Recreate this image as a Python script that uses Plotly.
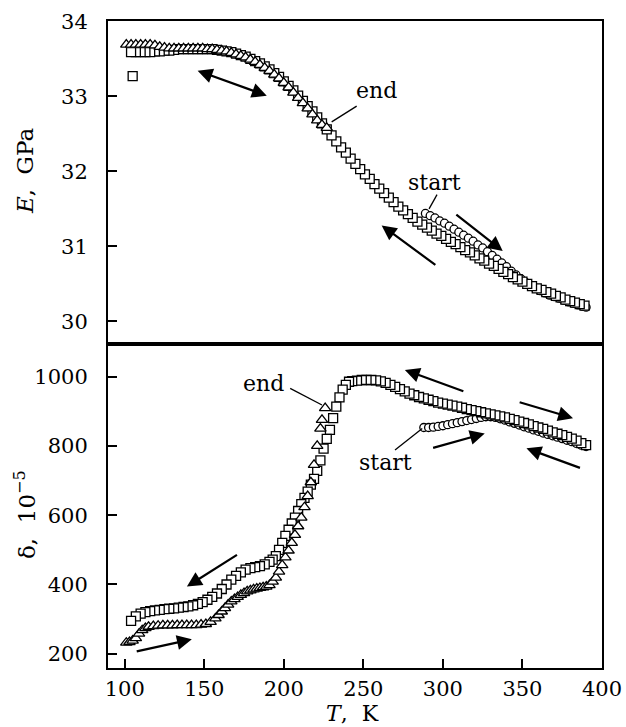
import plotly.graph_objects as go

# ---------------- tick labels ----------------
T_TICKS = [100, 150, 200, 250, 300, 350, 400]
E_TICKS = [30, 31, 32, 33, 34]
D_TICKS = [200, 400, 600, 800, 1000]

# ---------------- top panel: E, GPa ----------------
# circles: first heating, "start" at ~289 K
T_E_heat1 = [289, 292, 295, 298, 301, 304, 307, 310, 313, 316, 319, 322, 325, 328, 331, 334,
             337, 340, 343, 346, 349, 352, 355, 358, 361, 364, 367, 370, 373, 376, 379, 382,
             385, 388, 390]
E_heat1 = [31.44, 31.41, 31.38, 31.34, 31.31, 31.27, 31.23, 31.19, 31.15, 31.11, 31.07, 31.02,
           30.98, 30.93, 30.88, 30.83, 30.78, 30.73, 30.67, 30.62, 30.57, 30.52, 30.47, 30.44,
           30.41, 30.38, 30.35, 30.33, 30.31, 30.28, 30.26, 30.24, 30.22, 30.20, 30.19]

# squares: cooling from 390 K down to ~104 K
T_E_cool = [389, 386, 383, 380, 377, 374, 371, 368, 365, 362, 359, 356, 353, 350, 347, 344,
            341, 338, 335, 332, 329, 326, 323, 320, 317, 314, 311, 308, 305, 302, 299, 296,
            293, 290, 287, 284, 281, 278, 275, 272, 269, 266, 263, 260, 257, 254, 251, 248,
            245, 242, 239, 236, 233, 230, 227, 224, 221, 218, 215, 212, 209, 206, 203, 200,
            197, 194, 191, 188, 185, 182, 179, 176, 173, 170, 167, 164, 161, 158, 155, 152,
            149, 146, 143, 140, 137, 134, 131, 128, 125, 122, 119, 116, 113, 110, 107, 104, 105]
E_cool = [30.21, 30.23, 30.25, 30.27, 30.29, 30.32, 30.34, 30.37, 30.39, 30.42, 30.44, 30.47,
          30.50, 30.53, 30.56, 30.59, 30.63, 30.66, 30.70, 30.74, 30.77, 30.81, 30.84, 30.88,
          30.92, 30.95, 30.99, 31.03, 31.06, 31.10, 31.14, 31.17, 31.21, 31.25, 31.29, 31.33,
          31.38, 31.43, 31.48, 31.53, 31.59, 31.65, 31.71, 31.77, 31.83, 31.90, 31.96, 32.03,
          32.10, 32.17, 32.25, 32.32, 32.40, 32.48, 32.56, 32.64, 32.72, 32.80, 32.87, 32.94,
          33.01, 33.08, 33.14, 33.20, 33.26, 33.31, 33.36, 33.40, 33.44, 33.47, 33.50, 33.53,
          33.55, 33.57, 33.59, 33.60, 33.61, 33.62, 33.63, 33.63, 33.63, 33.63, 33.63, 33.63,
          33.63, 33.63, 33.62, 33.61, 33.61, 33.60, 33.60, 33.59, 33.59, 33.59, 33.59, 33.59,
          33.27]

# triangles: second heating from ~101 K up to "end" at ~227 K
T_E_heat2 = [101, 104, 107, 110, 113, 116, 119, 122, 125, 128, 131, 134, 137, 140, 143, 146,
             149, 152, 155, 158, 161, 164, 167, 170, 173, 176, 179, 182, 185, 188, 191, 194,
             197, 200, 203, 206, 209, 212, 215, 218, 221, 224, 227]
E_heat2 = [33.69, 33.69, 33.69, 33.69, 33.69, 33.69, 33.68, 33.66, 33.65, 33.64, 33.64, 33.64,
           33.64, 33.64, 33.64, 33.64, 33.64, 33.63, 33.63, 33.62, 33.61, 33.60, 33.58, 33.56,
           33.54, 33.52, 33.49, 33.46, 33.42, 33.38, 33.34, 33.29, 33.24, 33.18, 33.12, 33.05,
           32.98, 32.91, 32.84, 32.76, 32.68, 32.62, 32.58]

# ---------------- bottom panel: delta, 1e-5 ----------------
T_D_heat1 = [288, 291, 294, 297, 300, 303, 306, 309, 312, 315, 318, 321, 324, 327, 330, 333,
             336, 339, 342, 345, 348, 351, 354, 357, 360, 363, 366, 369, 372, 375, 378, 381,
             384, 387, 390]
D_heat1 = [853, 853, 854, 856, 858, 861, 864, 867, 870, 873, 876, 879, 882, 884, 884, 882,
           878, 874, 869, 865, 860, 855, 851, 846, 842, 837, 833, 829, 825, 821, 816, 812,
           807, 802, 798]

T_D_cool = [390, 387, 384, 381, 378, 375, 372, 369, 366, 363, 360, 357, 354, 351, 348, 345,
            342, 339, 336, 333, 330, 327, 324, 321, 318, 315, 312, 309, 306, 303, 300, 297,
            294, 291, 288, 285, 282, 279, 276, 273, 270, 267, 264, 261, 258, 255, 252, 249,
            246, 243, 241, 239, 237, 235, 233, 231, 229, 227, 225, 223, 221, 219, 217, 215,
            213, 211, 209, 207, 205, 203, 201, 199, 197, 195, 193, 191, 188, 185, 182, 179,
            176, 173, 170, 167, 164, 161, 158, 155, 152, 149, 146, 143, 140, 137, 134, 131,
            128, 125, 122, 119, 116, 113, 110, 107, 104]
D_cool = [802, 808, 815, 821, 826, 831, 835, 839, 844, 849, 853, 857, 862, 866, 870, 874,
          878, 882, 885, 888, 891, 894, 897, 900, 903, 906, 910, 913, 916, 919, 922, 925,
          929, 933, 937, 941, 946, 951, 957, 964, 970, 976, 982, 986, 989, 990, 990, 990,
          988, 987, 985, 976, 962, 940, 913, 880, 846, 820, 792, 758, 728, 705, 688, 668,
          650, 632, 612, 593, 576, 558, 540, 520, 500, 482, 472, 465, 458, 453, 450, 447,
          443, 435, 425, 414, 400, 387, 374, 364, 356, 349, 344, 340, 337, 335, 333, 331,
          330, 329, 327, 325, 323, 320, 316, 308, 295]

T_D_heat2 = [101, 103, 105, 107, 109, 111, 113, 115, 118, 121, 124, 127, 130, 133, 136, 139,
             142, 145, 148, 151, 154, 157, 159, 161, 163, 165, 167, 169, 171, 173, 175, 177,
             179, 181, 183, 185, 187, 189, 191, 193, 195, 197, 199, 201, 203, 205, 207, 209,
             211, 213, 215, 217, 219, 221, 223, 224, 226]
D_heat2 = [232, 234, 238, 245, 258, 268, 274, 278, 280, 281, 282, 282, 282, 283, 283, 283,
           283, 283, 284, 286, 292, 302, 312, 322, 332, 342, 351, 358, 364, 370, 375, 380,
           383, 386, 388, 390, 392, 394, 398, 408, 420, 437, 456, 478, 498, 520, 543, 568,
           593, 623, 655, 695, 745, 800, 850, 875, 909]

FONT = "DejaVu Serif"


def mk(symbol, size):
    return dict(symbol=symbol, size=size, color="white", line=dict(color="black", width=1.3))


fig = go.Figure()
# top panel
fig.add_trace(go.Scatter(x=T_E_heat1, y=E_heat1, mode="markers", marker=mk("circle", 8),
                         xaxis="x2", yaxis="y2", showlegend=False))
fig.add_trace(go.Scatter(x=T_E_cool, y=E_cool, mode="markers", marker=mk("square", 9),
                         xaxis="x2", yaxis="y2", showlegend=False))
fig.add_trace(go.Scatter(x=T_E_heat2, y=E_heat2, mode="markers", marker=mk("triangle-up", 10),
                         xaxis="x2", yaxis="y2", showlegend=False))
# bottom panel
fig.add_trace(go.Scatter(x=T_D_heat1, y=D_heat1, mode="markers", marker=mk("circle", 8),
                         xaxis="x", yaxis="y", showlegend=False))
fig.add_trace(go.Scatter(x=T_D_cool, y=D_cool, mode="markers", marker=mk("square", 9),
                         xaxis="x", yaxis="y", showlegend=False))
fig.add_trace(go.Scatter(x=T_D_heat2, y=D_heat2, mode="markers", marker=mk("triangle-up", 10),
                         xaxis="x", yaxis="y", showlegend=False))


def arrow(x, y, ax, ay, xr, yr, both=False):
    return dict(x=x, y=y, ax=ax, ay=ay, xref=xr, yref=yr, axref=xr, ayref=yr, text="",
                showarrow=True, arrowhead=2, arrowsize=1.35, arrowwidth=2.2, arrowcolor="black",
                startarrowhead=2, startarrowsize=1.35,
                arrowside="end+start" if both else "end")


def label(x, y, txt, xr, yr, size=22, angle=0):
    return dict(x=x, y=y, xref=xr, yref=yr, text=txt, showarrow=False, textangle=angle,
                font=dict(family=FONT, size=size, color="black"),
                xanchor="center", yanchor="middle")


annotations = [
    # top panel
    arrow(189.3, 33.01, 144.9, 33.35, "x2", "y2", both=True),
    arrow(261.5, 31.28, 296.2, 30.74, "x2", "y2"),
    arrow(337.6, 30.94, 307.5, 31.44, "x2", "y2"),
    label(258.4, 33.08, "end", "x2", "y2"),
    label(295.0, 31.85, "start", "x2", "y2"),
    # bottom panel
    arrow(276.1, 1019, 313.8, 956, "x", "y"),
    arrow(381.8, 880, 347.3, 927, "x", "y"),
    arrow(326.3, 836, 292.9, 793, "x", "y"),
    arrow(352.5, 793, 387.1, 735, "x", "y"),
    arrow(139.1, 394, 171.5, 488, "x", "y"),
    arrow(142.2, 242, 106.6, 206, "x", "y"),
    label(187.0, 981, "end", "x", "y"),
    label(264.0, 753, "start", "x", "y"),
    # axis titles
    label(-0.168, 0.768, "<i>E</i>,  GPa", "paper", "paper", size=23, angle=-90),
    label(-0.168, 0.2365, "δ,  10<sup>−5</sup>", "paper", "paper", size=23, angle=-90),
    label(0.494, -0.0705, "<i>T</i>,  K", "paper", "paper", size=22),
]

shapes = [
    dict(type="line", xref="x2", yref="y2", x0=245.8, y0=32.87, x1=230.1, y1=32.66,
         line=dict(color="black", width=1.3)),
    dict(type="line", xref="x2", yref="y2", x0=296.3, y0=31.69, x1=291.3, y1=31.50,
         line=dict(color="black", width=1.3)),
    dict(type="line", xref="x", yref="y", x0=204.0, y0=966, x1=224.0, y1=918,
         line=dict(color="black", width=1.3)),
    dict(type="line", xref="x", yref="y", x0=269.9, y0=788, x1=287.0, y1=850,
         line=dict(color="black", width=1.3)),
]

axis_common = dict(showline=True, linecolor="black", linewidth=2, mirror=True,
                   showgrid=False, zeroline=False, ticks="inside", ticklen=9, tickwidth=2,
                   tickcolor="black", automargin=False,
                   tickfont=dict(family=FONT, size=21, color="black"))

fig.update_layout(
    template="none",
    width=626, height=727,
    margin=dict(l=108, r=24, t=21, b=59),
    paper_bgcolor="white", plot_bgcolor="white",
    font=dict(family=FONT, color="black"),
    annotations=annotations, shapes=shapes,
    xaxis=dict(**axis_common, domain=[0, 1], anchor="y", range=[89.5, 400],
               tickvals=T_TICKS, ticklabelstandoff=1),
    xaxis2=dict(showline=True, linecolor="black", linewidth=2, mirror=True, showgrid=False,
                zeroline=False, domain=[0, 1], anchor="y2", matches="x", range=[89.5, 400],
                showticklabels=False, ticks="", automargin=False),
    yaxis=dict(**axis_common, domain=[0, 0.5008], anchor="x", range=[159, 1094],
               tickvals=D_TICKS, ticklabelstandoff=14),
    yaxis2=dict(**axis_common, domain=[0.5008, 1], anchor="x2", range=[29.70, 34.005],
                tickvals=E_TICKS, ticklabelstandoff=14),
)

fig.write_html("out.html", config={"displayModeBar": False},
               post_script="document.body.style.margin='0px';document.body.style.overflow='hidden';")
